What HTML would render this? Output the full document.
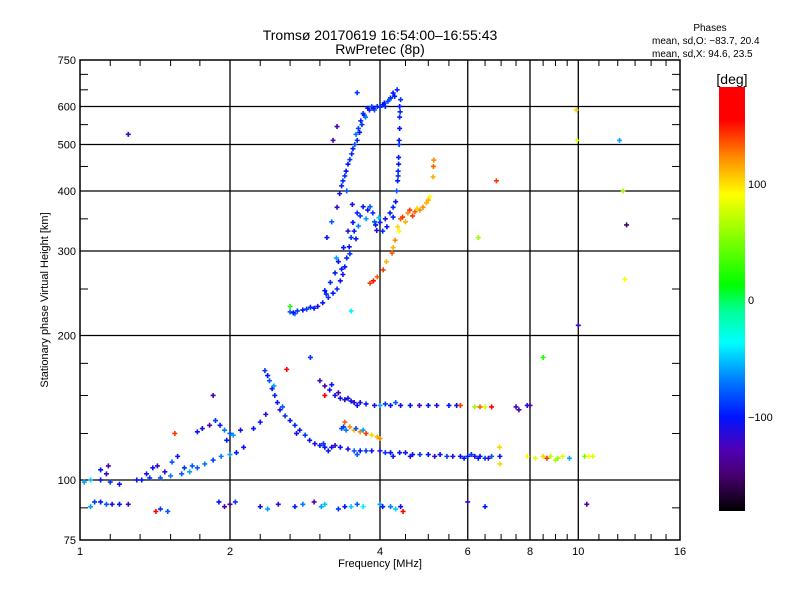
<!DOCTYPE html>
<html><head><meta charset="utf-8"><style>
body{margin:0;background:#fff;}
svg{display:block;font-family:"Liberation Sans",sans-serif;}
</style></head><body>
<svg id="chart" width="800" height="600" viewBox="0 0 800 600">
<rect width="800" height="600" fill="#fff"/>
<text x="380" y="40" text-anchor="middle" font-size="14">Tromsø 20170619 16:54:00–16:55:43</text>
<text x="380" y="54" text-anchor="middle" font-size="14">RwPretec (8p)</text>
<text x="710" y="31" text-anchor="middle" font-size="10">Phases</text>
<text x="652" y="44" font-size="10">mean, sd,O: −83.7, 20.4</text>
<text x="652" y="57" font-size="10">mean, sd,X:  94.6, 23.5</text>
<g id="grid"></g>
<g id="marks"></g>
<g id="axes"></g>
<text x="380" y="567" text-anchor="middle" font-size="11">Frequency [MHz]</text>
<text transform="translate(48,300) rotate(-90)" text-anchor="middle" font-size="11">Stationary phase Virtual Height [km]</text>
<defs><linearGradient id="cb" x1="0" y1="1" x2="0" y2="0"></linearGradient></defs>
<rect x="719" y="87" width="26" height="424" fill="url(#cb)"/>
<text x="732" y="84" text-anchor="middle" font-size="14">[deg]</text>
<text x="748" y="188" font-size="11">100</text>
<text x="748" y="304" font-size="11">0</text>
<text x="748" y="421" font-size="11">−100</text>
</svg>
<script>
const xTickValues=[1,2,4,6,8,10,16];
const xTickLabels=["1","2","4","6","8","10","16"];
const yTickValues=[75,100,200,300,400,500,600,750];
const yTickLabels=["75","100","200","300","400","500","600","750"];
const gridX=[2,4,6,8,10];
const gridY=[100,200,300,400,500,600];
// echo points: frequency (MHz), virtual height (km), phase (deg)
const fUpperF=[3.37,3.42,3.48,3.53,3.60,3.62,3.66,3.70,3.78,3.85,3.95,4.05,4.15,4.25,4.33,3.28,3.22,3.43,3.58,3.72,3.90,4.10,4.20,3.60,4.38,4.38,4.38,4.37,4.36,4.35,4.34,4.32,4.30,4.25,4.19,4.10,4.40,4.36,3.40,3.45,3.51,3.56,3.64,3.68,3.74,3.81,3.88,4.00,4.08,4.18,4.28,4.39,4.37,4.35,3.35,3.32];
const hUpperF=[420,440,465,490,510,540,560,580,595,600,600,605,615,640,650,545,510,400,525,575,590,600,625,641,600,570,540,500,470,440,420,400,380,370,360,350,620,455,430,455,478,500,530,550,570,590,595,598,610,620,630,585,510,430,410,395];
const pUpperF=[-95,-100,-90,-100,-95,-85,-100,-90,-100,-80,-95,-100,-85,-100,-95,-130,-130,-80,-70,-100,-80,-95,-100,-90,-100,-95,-100,-90,-100,-95,-100,-80,-100,-95,-100,-110,-90,-100,-90,-100,-95,-80,-100,-90,-70,-100,-110,-90,-100,-80,-100,-95,-100,-90,-100,-110];
const fLowerF=[4.0,3.87,3.82,3.70,3.60,3.53,3.94,4.13,4.25,3.55,3.50,3.47,3.43,3.40,3.37,3.33,3.28,3.22,3.15,3.07,3.00,2.90,2.80,2.73,2.64,3.45,3.38,3.30,3.25,3.18,3.10,3.28,3.20,3.13,3.27,3.52,2.64,2.70,3.75,3.62,3.98,3.92,3.65,3.78,3.90,4.05,3.58,3.48,3.35,3.12,2.95,2.85,2.68];
const hLowerF=[344,360,371,371,360,344,331,337,353,330,320,306,290,278,268,260,250,245,240,234,230,229,226,225,224,330,305,285,270,258,248,370,345,320,290,375,230,222,350,338,352,340,355,365,345,330,318,296,275,244,228,227,223];
const pLowerF=[-100,-90,-80,-100,-95,-100,-110,-100,-95,-100,-90,-100,-95,-100,-110,-100,-95,-100,-90,-100,-110,-95,-100,-90,-80,-110,-100,-105,-100,-95,-100,-120,-80,-100,-60,-110,20,-70,-60,-70,-50,-100,-90,-100,-80,-95,-100,-90,-100,-95,-100,-90,-100];
const fXmode=[3.82,3.88,3.95,4.06,4.12,4.23,4.25,4.29,4.34,4.37,4.40,4.44,4.50,4.59,4.70,4.81,4.96,5.04,5.11,5.13,5.12,4.65,4.88,4.55,4.75,5.00];
const hXmode=[257,260,265,274,285,297,305,316,337,330,350,353,345,365,362,365,378,389,428,464,450,355,370,360,368,383];
const pXmode=[140,150,130,140,110,130,110,120,100,90,130,140,110,140,130,120,110,90,110,120,130,140,120,120,100,110];
const fLowE=[2.35,2.38,2.40,2.43,2.46,2.49,2.52,2.58,2.64,2.70,2.76,2.83,2.89,2.96,3.03,3.10,3.20,3.33,3.45,3.55,3.65,3.75,3.85,4.0,4.1,4.2,4.38,4.5,4.65,4.81,5.0,5.15,5.28,5.45,5.6,5.8,6.0,6.2,6.35,6.5,6.7,6.96,2.45,2.55,2.72,3.08,3.15,3.25,3.60,4.25,4.6,5.9,6.1,6.3,6.6];
const hLowE=[169,165,161,155,150,145,140,136,133,130,127,124,121,119,118,117,117,117,116,115,115,115,115,115,114,114,114,114,113,113,113,112,113,112,112,112,112,112,112,111,112,112,157,142,125,119,115,118,113,112,112,111,113,111,111];
const pLowE=[-90,-100,-80,-100,-95,-100,-110,-90,-100,-95,-100,-90,-100,-110,-100,-100,-105,-100,-110,-80,-100,-90,-100,-110,-90,-100,-100,-110,-100,-90,-100,-120,-100,-90,-110,-100,-100,-110,-100,-90,-80,-100,-60,-80,-110,-90,-100,-120,-80,-100,-110,-100,-90,-100,-120];
const fEs=[3.03,3.10,3.17,3.25,3.33,3.40,3.50,3.65,3.75,3.9,4.0,4.2,4.4,4.6,4.8,5.0,5.2,5.5,5.7,5.8,6.2,6.35,6.5,6.7,7.5,7.9,3.2,3.3,3.45,3.55,3.6,4.1,4.3];
const hEs=[161,157,154,150,148,147,146,145,144,143,143,143,143,143,143,143,143,143,143,143,142,142,142,142,142,143,158,152,148,145,143,144,145];
const pEs=[-120,-130,-100,-110,-100,-120,-100,-110,-100,-110,-60,-100,-110,-100,-120,-100,-110,-100,-100,140,60,130,80,170,-120,-110,-100,-130,-110,-120,-100,-90,-80];
const fXlow=[3.40,3.48,3.55,3.65,3.75,3.85,3.95,4.0,3.35,3.42,3.38,3.58,3.70,7.9,8.2,8.5,8.8,9.1,9.3,9.6,10.3,10.5,10.7,6.95,6.96,8.65,9.0];
const hXlow=[132,129,127,126,125,124,123,122,128,127,129,128,127,112,111,112,112,111,112,111,112,112,112,117,108,111,110];
const pXlow=[130,120,110,120,140,100,110,120,-80,-70,-90,-80,-60,90,80,100,70,60,80,-60,50,90,80,100,100,140,60];
const fLowF=[1.02,1.05,1.1,1.15,1.2,1.33,1.38,1.45,1.52,1.6,1.66,1.72,1.78,1.85,1.92,2.0,2.06,2.13,1.36,1.40,1.43,1.53,1.57,1.87,1.91,1.95,2.0,2.23,2.3,2.36,1.72,1.76,1.82,1.1,1.13,1.14,1.3,1.48,1.62,1.68,1.97,2.03,2.1];
const hLowF=[99,100,100,99,98,100,101,101,102,103,104,106,108,110,112,113,114,117,103,106,107,109,112,133,130,127,125,128,132,137,126,128,130,105,103,107,100,104,106,107,121,124,127];
const pLowF=[-60,-50,-100,-90,-100,-100,-90,-80,-70,-80,-60,-80,-70,-90,-70,-60,-100,-100,-110,-100,-120,-80,-100,-90,-100,-70,-80,-100,-100,-110,-100,-110,-130,-100,-120,-130,-100,-110,-90,-80,-100,-60,-110];
const fEsLow=[1.05,1.07,1.1,1.13,1.16,1.2,1.25,1.45,1.5,1.9,1.95,2.0,2.05,2.3,2.38,2.5,2.7,2.8,2.95,3.05,3.1,3.3,3.4,3.5,3.6,3.7,4.0,4.05,4.2,4.3,4.4,4.45,6.0,6.5,10.4,1.42];
const hEsLow=[88,90,90,89,89,89,89,87,86,90,88,89,90,88,87,89,88,89,90,88,89,87,88,88,89,88,89,88,88,87,88,86,90,88,89,86];
const pEsLow=[-60,-90,-100,-80,-110,-100,-120,-90,-80,-100,-130,-140,-90,-110,-60,-120,-100,-70,-130,-60,-50,-90,-100,-50,-80,-40,-60,-100,-70,-50,-110,160,-120,-100,-130,150];
const fIso=[1.25,9.9,9.95,12.1,12.3,12.5,12.4,10.0,6.3,6.85,8.5,2.6,1.55,1.85,8.0,7.6,3.1,3.5,2.9];
const hIso=[525,590,510,510,400,340,262,210,320,420,180,170,125,150,143,140,150,225,180];
const pIso=[-120,100,80,-60,60,-150,90,-120,60,140,20,170,140,-130,-130,-130,160,-40,-90];

const X0=80,X1=680,Y0=60,Y1=540;
function xScale(f){return X0+150*Math.log2(f);}
function yScale(h){return 480-480*Math.log10(h/100);}
const stops=[[-180,0,0,0],[-150,70,0,110],[-128,80,0,180],[-100,0,20,255],[-70,0,120,255],[-37,0,255,255],[-10,0,255,150],[12,0,255,0],[89,255,255,0],[120,255,140,0],[152,255,0,0],[180,255,0,0]];
function phaseColor(p){p=Math.max(-180,Math.min(180,p));for(let i=1;i<stops.length;i++){if(p<=stops[i][0]){const a=stops[i-1],b=stops[i],t=(p-a[0])/(b[0]-a[0]);return`rgb(${Math.round(a[1]+t*(b[1]-a[1]))},${Math.round(a[2]+t*(b[2]-a[2]))},${Math.round(a[3]+t*(b[3]-a[3]))})`;}}return'red';}
const NS='http://www.w3.org/2000/svg';
function mk(tag,attrs,parent){const e=document.createElementNS(NS,tag);for(const k in attrs)e.setAttribute(k,attrs[k]);parent.appendChild(e);return e;}
const grad=document.getElementById('cb');
stops.forEach(s=>{mk('stop',{offset:(s[0]+180)/360,'stop-color':`rgb(${s[1]},${s[2]},${s[3]})`},grad);});
const grid=document.getElementById('grid'),axes=document.getElementById('axes'),marks=document.getElementById('marks');
gridX.forEach(v=>{const l=mk('line',{x1:xScale(v),x2:xScale(v),y1:Y0,y2:Y1,stroke:'#000','stroke-width':1.3},grid);

});
gridY.forEach(v=>{const l=mk('line',{x1:X0,x2:X1,y1:yScale(v),y2:yScale(v),stroke:'#000','stroke-width':1.3},grid);

});
const box=mk('rect',{x:X0,y:Y0,width:X1-X0,height:Y1-Y0,fill:'none',stroke:'#000','stroke-width':1.5},axes);


const minorX=[1.15,1.32,1.52,1.74,2.3,2.64,3.03,3.48,4.5,5,5.5,6.5,7,7.5,8.5,9,9.5,11,12,13,14,15];
minorX.forEach(v=>{[[Y1,Y1-6],[Y0,Y0+6]].forEach(p=>{const t=mk('line',{x1:xScale(v),x2:xScale(v),y1:p[0],y2:p[1],stroke:'#000','stroke-width':1},axes);

});});
const minorY=[87.5,125,150,175,250,350,450,550,650,700];
minorY.forEach(v=>{[[X0,X0+8],[X1,X1-8]].forEach(p=>{const t=mk('line',{x1:p[0],x2:p[1],y1:yScale(v),y2:yScale(v),stroke:'#000','stroke-width':1},axes);

});});
xTickValues.forEach((v,i)=>{const t=mk('text',{x:xScale(v),y:555,'text-anchor':'middle','font-size':11},axes);t.textContent=xTickLabels[i];

});
yTickValues.forEach((v,i)=>{const t=mk('text',{x:76,y:yScale(v)+4,'text-anchor':'end','font-size':11},axes);t.textContent=yTickLabels[i];

});
function plot(F,H,P,name){for(let i=0;i<F.length;i++){const x=xScale(F[i]),y=yScale(H[i]),c=phaseColor(P[i]);
const g=mk('path',{d:`M${x-2.5},${y}H${x+2.5}M${x},${y-2.5}V${y+2.5}`,stroke:c,'stroke-width':1.6},marks);

}}
plot(fUpperF,hUpperF,pUpperF,'f-upper-echo');
plot(fLowerF,hLowerF,pLowerF,'f-lower-echo');
plot(fXmode,hXmode,pXmode,'f-xmode-echo');
plot(fLowE,hLowE,pLowE,'e-trace-echo');
plot(fEs,hEs,pEs,'es-upper-echo');
plot(fXlow,hXlow,pXlow,'x-low-echo');
plot(fLowF,hLowF,pLowF,'low-freq-echo');
plot(fEsLow,hEsLow,pEsLow,'es-88km-echo');
plot(fIso,hIso,pIso,'isolated-echo');
</script>
</body></html>
